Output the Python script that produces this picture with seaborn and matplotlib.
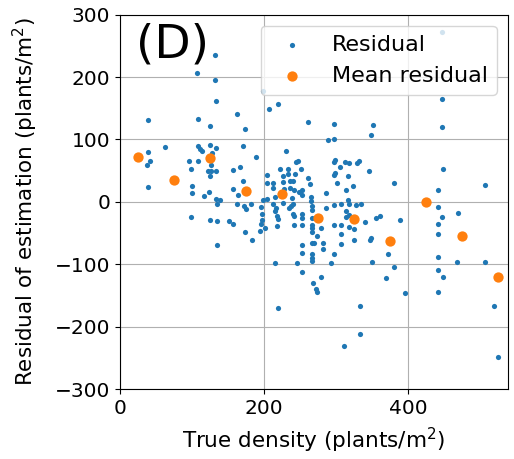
import numpy as np
import pandas as pd
import matplotlib
matplotlib.use("Agg")
import matplotlib.pyplot as plt
import seaborn as sns

# Residual points (true density, residual)
true_density = [
    38.4, 38.4, 41.9, 38.0, 38.4, 62.0, 95.7, 99.0, 99.4, 99.4, 99.0,
    107.4, 108.7, 108.7, 110.5, 113.3, 108.7, 116.5, 123.4, 124.4, 124.4,
    127.9, 126.8, 122.1, 125.8, 124.4, 124.4, 131.3, 132.3, 132.7, 133.4,
    133.4, 133.4, 138.3, 134.1, 134.5, 134.5, 151.7, 156.7, 156.3, 166.4,
    171.2, 156.3, 163.2, 162.6, 172.0, 175.0, 182.3, 162.8, 173.9, 171.2,
    188.2, 173.0, 183.6, 198.3, 206.2, 219.7, 230.2, 196.1, 197.0, 197.0,
    196.1, 193.8, 200.7, 197.9, 203.5, 203.5, 203.5, 212.5, 212.5, 214.6,
    221.5, 233.6, 225.7, 233.3, 243.0, 243.7, 246.5, 250.6, 226.4, 235.4,
    239.5, 228.0, 235.4, 240.9, 248.3, 252.7, 252.0, 238.6, 260.8, 264.1,
    264.5, 264.5, 212.2, 216.0, 214.6, 218.3, 219.1, 217.3, 225.7, 234.0,
    237.7, 240.5, 239.5, 241.3, 241.3, 252.7, 252.7, 252.7, 252.7, 252.7,
    214.6, 246.1, 252.7, 260.8, 297.4, 350.5, 348.7, 288.1, 297.4, 296.4,
    297.8, 305.7, 312.4, 317.2, 329.3, 331.1, 345.4, 296.8, 298.5, 316.8,
    300.6, 323.5, 313.7, 286.4, 379.6, 265.9, 265.9, 286.3, 296.4, 307.1,
    316.8, 317.9, 327.9, 334.3, 314.0, 313.0, 317.6, 265.9, 265.9, 265.9,
    265.9, 278.8, 297.4, 307.1, 317.2, 325.1, 339.4, 355.6, 360.2, 388.9,
    273.2, 307.1, 265.9, 269.6, 281.6, 281.1, 307.1, 325.1, 346.3, 348.1,
    266.9, 266.9, 266.9, 296.4, 293.2, 349.1, 371.3, 379.6, 278.8, 267.7,
    271.4, 273.8, 369.5, 395.3, 219.1, 332.5, 332.5, 310.3, 441.6, 446.2,
    468.8, 441.6, 441.6, 441.6, 467.0, 505.8, 441.6, 448.0, 441.6, 518.3,
    524.8, 441.6, 446.6, 446.2, 446.2, 448.0, 505.8,
]
residual = [
    131.1, 80.3, 65.5, 58.6, 23.1, 88.1, 65.5, 52.6, 25.5, 13.4, -23.7,
    207.0, 132.8, 90.3, 85.5, 82.3, 65.5, 9.7, 15.5, 121.9, 91.9,
    77.9, 58.6, 48.9, 48.9, 41.9, -29.0, 235.5, 195.2, 162.3, 86.0,
    48.9, 4.5, 2.9, -3.5, -31.3, -68.4, -30.6, -35.0, 51.0, 56.5,
    32.7, 20.6, 10.2, -2.7, -6.0, -10.8, -2.7, 140.3, 116.1, 89.7,
    71.5, -47.9, -60.8, 177.9, 149.4, 156.5, 82.3, -8.1, -18.9, -29.0,
    -36.1, -47.1, -42.6, 2.9, 4.5, 42.9, 29.5, 29.5, 22.3, 8.1,
    52.1, 52.1, 41.3, 44.0, 44.0, 64.2, 65.8, 53.2, 31.1, 32.7,
    32.7, 20.3, 21.9, 18.2, 15.0, 18.2, 10.2, 5.8, 37.6, 28.4,
    7.7, 2.1, -3.9, -9.2, -14.0, -23.2, -27.4, -38.2, -1.6, -10.3,
    -7.1, -3.9, -18.9, -23.2, -37.1, -20.0, -26.5, -37.1, -68.4, -81.3,
    -97.9, -97.9, -113.2, 128.7, 124.7, 123.1, 106.5, 98.9, 101.0, 64.2,
    67.4, 56.5, 64.2, 61.8, 62.3, 65.0, 48.9, 42.4, 45.6, 41.3,
    30.0, 24.7, 19.0, 13.7, 30.0, -6.8, -12.9, -9.2, -4.4, -3.1,
    2.6, -3.5, -4.4, -3.1, -14.5, -23.7, -21.0, -25.3, -37.1, -42.6,
    -47.9, -42.6, -37.1, -37.1, -40.3, -43.6, -31.8, -25.3, -22.1, -29.0,
    -55.5, -51.6, -65.2, -65.2, -65.2, -75.8, -66.8, -61.3, -61.3, -58.7,
    -83.9, -89.8, -95.2, -83.9, -97.9, -96.3, -83.4, -103.9, -120.5, -129.7,
    -140.3, -144.7, -122.6, -145.8, -170.5, -167.3, -211.9, -231.8, -8.7, -23.7,
    -18.4, -35.5, -51.6, -88.7, -96.3, -96.3, -109.2, -120.5, -144.2, -166.8,
    -248.4, 19.0, 272.0, 165.0, 119.8, 52.6, 26.8,
]

# Mean residual per density bin
bin_centers = [25, 75, 125, 175, 225, 275, 325, 375, 425, 475, 525]
mean_residual = [71.5, 35.5, 69.5, 16.6, 12.0, -25.3, -27.4, -62.5, 0.5, -54.8, -120.0]

df_res = pd.DataFrame({"x": true_density, "y": residual})
df_mean = pd.DataFrame({"x": bin_centers, "y": mean_residual})

plt.rcParams.update(plt.rcParamsDefault)
plt.rcParams["font.family"] = ["DejaVu Sans"]

fig = plt.figure(figsize=(5.14, 4.59), dpi=100)
ax = fig.add_axes([0.2335, 0.1525, 0.7545, 0.8155])

sns.scatterplot(data=df_res, x="x", y="y", ax=ax, s=14, color="#1f77b4",
                linewidth=0, label="Residual", zorder=3)
sns.scatterplot(data=df_mean, x="x", y="y", ax=ax, s=55, color="#ff7f0e",
                linewidth=0, label="Mean residual", zorder=4)

ax.set_xlim(0, 538)
ax.set_ylim(-300, 300)
ax.set_xticks([0, 200, 400])
ax.set_yticks([-300, -200, -100, 0, 100, 200, 300])
ax.grid(True, color="#b0b0b0", linewidth=0.8)
ax.set_axisbelow(True)
ax.tick_params(labelsize=14.5)
ax.set_xlabel("True density (plants/m$^2$)", fontsize=15.5, labelpad=6)
ax.set_ylabel("Residual of estimation (plants/m$^2$)", fontsize=15.5,
              labelpad=11)

ax.text(0.042, 0.92, "(D)", transform=ax.transAxes, fontsize=34,
        va="center", ha="left")

ax.legend(loc="upper right", fontsize=16)

fig.savefig("out.png", dpi=100)
